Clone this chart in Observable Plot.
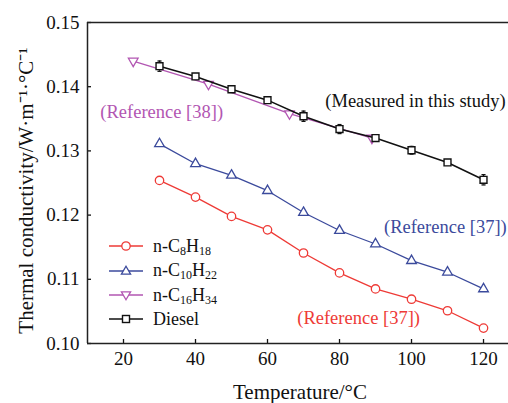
<!DOCTYPE html>
<html>
<head>
<meta charset="utf-8">
<script src="https://cdn.jsdelivr.net/npm/d3@7"></script>
<script src="https://cdn.jsdelivr.net/npm/@observablehq/plot@0.6"></script>
<style>
  html, body { margin: 0; padding: 0; background: #fff; }
  #wrap { position: relative; width: 508px; height: 403px; overflow: hidden; font-family: "Liberation Serif", "Times New Roman", serif; }
  #legend { position: absolute; left: 109px; top: 234px; font-size: 18px; line-height: 24.4px; color: #111; }
  #legend .row { display: flex; align-items: center; height: 24.4px; }
  #legend svg { width: 34px; height: 14px; margin-right: 10px; overflow: visible; }
  #legend sub { font-size: 12px; vertical-align: -3px; line-height: 0; }
</style>
</head>
<body>
<div id="wrap"></div>
<script>
// ---- data ----
const temps = [30, 40, 50, 60, 70, 80, 90, 100, 110, 120];
const c8h18 = [0.1254, 0.1228, 0.1198, 0.1177, 0.1141, 0.1110, 0.1085, 0.1069, 0.1051, 0.1024];
const c10h22 = [0.1311, 0.1280, 0.1262, 0.1238, 0.1204, 0.1176, 0.1155, 0.1129, 0.1111, 0.1085];
const c16Temps = [22.7, 43.6, 66.1, 89.0];
const c16h34 = [0.1440, 0.1404, 0.1358, 0.1320];
const diesel = [0.1432, 0.1416, 0.1396, 0.1379, 0.1354, 0.1334, 0.1320, 0.1301, 0.1282, 0.1255];
const dieselErr = [0.0008, 0.0004, 0.0005, 0.0004, 0.0008, 0.0007, 0.0004, 0.0006, 0.0004, 0.0008];
const xTicks = [20, 40, 60, 80, 100, 120];
const yTicks = [0.10, 0.11, 0.12, 0.13, 0.14, 0.15];
const seriesNames = ["n-C8H18", "n-C10H22", "n-C16H34", "Diesel"];
const annotations = ["(Reference [38])", "(Measured in this study)", "(Reference [37])", "(Reference [37])"];
const xTitle = "Temperature/°C";
const yTitle = "Thermal conductivity/W·m⁻¹·°C⁻¹";

const RED = "#ee3a36", BLUE = "#3b4a9c", PURPLE = "#b256b2", BLACK = "#111";
const FONT = "'Liberation Serif', 'Times New Roman', serif";

const rows = (xs, ys) => xs.map((x, i) => ({x, y: ys[i]}));
const red = rows(temps, c8h18);
const blue = rows(temps, c10h22);
const purple = rows(c16Temps, c16h34);
const black = temps.map((x, i) => ({x, y: diesel[i], lo: diesel[i] - dieselErr[i], hi: diesel[i] + dieselErr[i]}));

const capSymbol = { draw(ctx, size) { const w = Math.sqrt(size); ctx.moveTo(-w / 2, 0); ctx.lineTo(w / 2, 0); } };

const chart = Plot.plot({
  width: 508,
  height: 403,
  marginLeft: 87,
  marginRight: 0,
  marginTop: 22,
  marginBottom: 60,
  style: { fontFamily: FONT, background: "#fff", color: BLACK, overflow: "visible" },
  x: { domain: [10, 126.94], ticks: xTicks },
  y: { domain: [0.10, 0.15], ticks: yTicks },
  marks: [
    Plot.axisX(xTicks, { tickSize: -4, tickPadding: 12, fontSize: 19, fontFamily: FONT, tickFormat: d3.format("d"), label: null, strokeWidth: 1.3 }),
    Plot.axisY(yTicks, { tickSize: -4, tickPadding: 12, fontSize: 19, fontFamily: FONT, tickFormat: d3.format(".2f"), label: null, strokeWidth: 1.3 }),
    Plot.ruleX([10], { stroke: "#222", strokeWidth: 1.5 }),
    Plot.ruleY([0.10, 0.15], { stroke: "#222", strokeWidth: 1.5 }),
    // n-C8H18
    Plot.line(red, { x: "x", y: "y", stroke: RED, strokeWidth: 1.3 }),
    Plot.dot(red, { x: "x", y: "y", r: 4.2, stroke: RED, fill: "#fff", strokeWidth: 1.3 }),
    // n-C10H22
    Plot.line(blue, { x: "x", y: "y", stroke: BLUE, strokeWidth: 1.3 }),
    Plot.dot(blue, { x: "x", y: "y", r: 3.6, symbol: "triangle", stroke: BLUE, fill: "#fff", strokeWidth: 1.3 }),
    // n-C16H34
    Plot.line(purple, { x: "x", y: "y", stroke: PURPLE, strokeWidth: 1.3 }),
    Plot.dot(purple, { x: "x", y: "y", r: 3.6, symbol: "triangle", rotate: 180, stroke: PURPLE, fill: "#fff", strokeWidth: 1.3 }),
    // Diesel
    Plot.line(black, { x: "x", y: "y", stroke: BLACK, strokeWidth: 1.5 }),
    Plot.ruleX(black, { x: "x", y1: "lo", y2: "hi", stroke: BLACK, strokeWidth: 1.3 }),
    Plot.dot(black, { x: "x", y: "lo", r: 2.3, symbol: capSymbol, stroke: BLACK, strokeWidth: 1.3 }),
    Plot.dot(black, { x: "x", y: "hi", r: 2.3, symbol: capSymbol, stroke: BLACK, strokeWidth: 1.3 }),
    Plot.dot(black, { x: "x", y: "y", r: 3.9, symbol: "square", stroke: BLACK, fill: "#fff", strokeWidth: 1.4 }),
    // annotations
    Plot.text([annotations[0]], { x: 30.6, y: 0.1361, text: d => d, fill: PURPLE, fontSize: 18.5, fontFamily: FONT }),
    Plot.text([annotations[1]], { x: 101.1, y: 0.1377, text: d => d, fill: BLACK, fontSize: 18.5, fontFamily: FONT }),
    Plot.text([annotations[2]], { x: 109.4, y: 0.1181, text: d => d, fill: BLUE, fontSize: 18.5, fontFamily: FONT }),
    Plot.text([annotations[3]], { x: 85.3, y: 0.1040, text: d => d, fill: RED, fontSize: 18.5, fontFamily: FONT }),
    // axis titles
    Plot.text([xTitle], { frameAnchor: "bottom", textAnchor: "middle", lineAnchor: "middle", dx: 2, dy: 49, text: d => d, fontSize: 21, fontFamily: FONT, fill: BLACK }),
    Plot.text([yTitle], { frameAnchor: "left", textAnchor: "middle", lineAnchor: "bottom", rotate: -90, dx: -55, dy: 7.5, text: d => d, fontSize: 21, fontFamily: FONT, fill: BLACK })
  ]
});

const wrap = document.getElementById("wrap");
wrap.appendChild(chart);

// legend (HTML overlay so that chemical subscripts are real text)
const legendSpec = [
  { name: seriesNames[0], color: RED, shape: "circle" },
  { name: seriesNames[1], color: BLUE, shape: "up" },
  { name: seriesNames[2], color: PURPLE, shape: "down" },
  { name: seriesNames[3], color: BLACK, shape: "square" }
];
const legend = document.createElement("div");
legend.id = "legend";
const subHTML = s => s.replace(/(\d+)/g, "<sub>$1</sub>");
for (const item of legendSpec) {
  const row = document.createElement("div");
  row.className = "row";
  let marker;
  if (item.shape === "circle") marker = `<circle cx="17" cy="7" r="4.2" fill="#fff" stroke="${item.color}" stroke-width="1.3"/>`;
  else if (item.shape === "up") marker = `<path d="M17,2.2L21.6,10.2L12.4,10.2Z" fill="#fff" stroke="${item.color}" stroke-width="1.3"/>`;
  else if (item.shape === "down") marker = `<path d="M17,11.8L21.6,3.8L12.4,3.8Z" fill="#fff" stroke="${item.color}" stroke-width="1.3"/>`;
  else marker = `<rect x="13.5" y="3.5" width="7" height="7" fill="#fff" stroke="${item.color}" stroke-width="1.4"/>`;
  row.innerHTML = `<svg viewBox="0 0 34 14"><line x1="0" y1="7" x2="34" y2="7" stroke="${item.color}" stroke-width="1.3"/>${marker}</svg><span>${subHTML(item.name)}</span>`;
  legend.appendChild(row);
}
wrap.appendChild(legend);
</script>
</body>
</html>
